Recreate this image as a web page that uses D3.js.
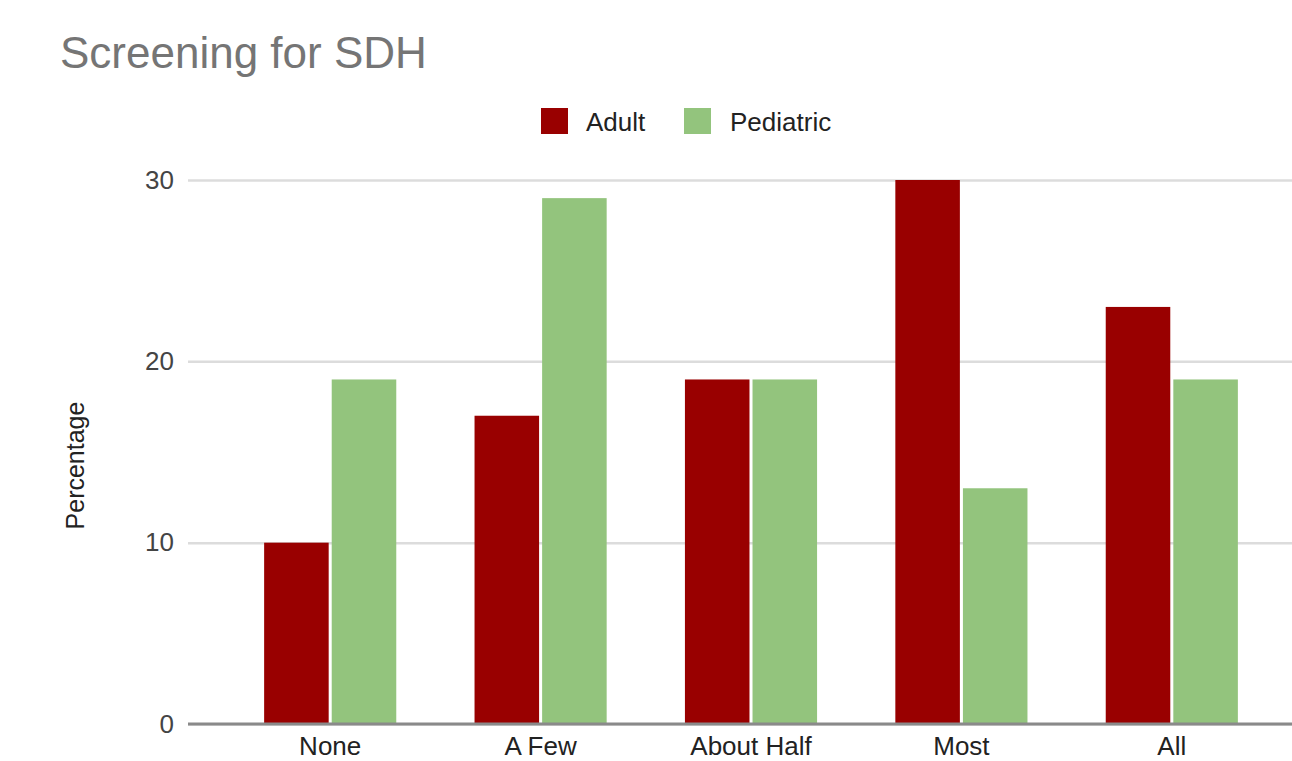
<!DOCTYPE html>
<html>
<head>
<meta charset="utf-8">
<script src="https://cdn.jsdelivr.net/npm/d3@7/dist/d3.min.js"></script>
<style>
  html, body { margin: 0; padding: 0; background: #fff; overflow: hidden; }
  svg { display: block; font-family: Arial, "Liberation Sans", sans-serif; }
</style>
</head>
<body>
<svg id="chart" width="1292" height="761"></svg>
<script>
// Share of respondents screening for social determinants of health
const categories = ["None", "A Few", "About Half", "Most", "All"];
const seriesNames = ["Adult", "Pediatric"];
const adultValues = [10, 17, 19, 30, 23];
const pediatricValues = [19, 29, 19, 13, 19];
const yTicks = [0, 10, 20, 30];
const seriesColors = ["#990000", "#93c47d"];

const svg = d3.select("#chart");
const plot = { left: 188, right: 1310, top: 180, bottom: 724 };

const x = d3.scaleBand()
  .domain(categories)
  .range([225, 1277])
  .paddingInner(0.372)
  .paddingOuter(0.186);

const xSub = d3.scaleBand()
  .domain(seriesNames)
  .range([0, x.bandwidth()])
  .paddingInner(0.045);

const y = d3.scaleLinear()
  .domain([0, 30])
  .range([plot.bottom, plot.top]);

// Title
svg.append("text")
  .attr("x", 60)
  .attr("y", 68)
  .attr("font-size", 44)
  .attr("fill", "#757575")
  .text("Screening for SDH");

// Legend
const legend = svg.append("g");
const legendItems = [
  { name: seriesNames[0], color: seriesColors[0], sx: 541, tx: 586 },
  { name: seriesNames[1], color: seriesColors[1], sx: 684, tx: 730 }
];
legendItems.forEach(d => {
  legend.append("rect")
    .attr("x", d.sx).attr("y", 108)
    .attr("width", 27).attr("height", 26)
    .attr("fill", d.color);
  legend.append("text")
    .attr("x", d.tx).attr("y", 131)
    .attr("font-size", 26)
    .attr("fill", "#222")
    .text(d.name);
});

// Gridlines and y tick labels
const yAxis = d3.axisLeft(y)
  .tickValues(yTicks)
  .tickSize(-(plot.right - plot.left))
  .tickPadding(14)
  .tickFormat(d3.format("d"));

const gy = svg.append("g")
  .attr("transform", `translate(${plot.left},0)`)
  .call(yAxis);
gy.select(".domain").remove();
gy.selectAll(".tick line")
  .attr("stroke", "#dcdcdc")
  .attr("stroke-width", 2.5);
gy.selectAll(".tick text")
  .attr("font-size", 26)
  .attr("fill", "#444")
  .attr("font-family", "Arial, 'Liberation Sans', sans-serif");

// Y axis title
svg.append("text")
  .attr("transform", `translate(84, ${(398 + 533) / 2}) rotate(-90)`)
  .attr("text-anchor", "middle")
  .attr("font-size", 25)
  .attr("fill", "#222")
  .text("Percentage");

// Bars
const rows = categories.map((c, i) => ({
  category: c,
  values: [adultValues[i], pediatricValues[i]]
}));

const groups = svg.append("g").selectAll("g")
  .data(rows)
  .join("g")
  .attr("transform", d => `translate(${x(d.category)},0)`);

groups.selectAll("rect")
  .data(d => d.values.map((v, j) => ({ series: seriesNames[j], value: v, color: seriesColors[j] })))
  .join("rect")
  .attr("x", d => xSub(d.series))
  .attr("y", d => y(d.value))
  .attr("width", xSub.bandwidth())
  .attr("height", d => y(0) - y(d.value))
  .attr("fill", d => d.color);

// Baseline
svg.append("line")
  .attr("x1", plot.left).attr("x2", plot.right)
  .attr("y1", y(0)).attr("y2", y(0))
  .attr("stroke", "#8a8a8a")
  .attr("stroke-width", 3);

// X category labels
const xAxis = d3.axisBottom(x).tickSize(0).tickPadding(0);
const gx = svg.append("g")
  .attr("transform", `translate(0,${plot.bottom})`)
  .call(xAxis);
gx.select(".domain").remove();
gx.selectAll(".tick text")
  .attr("dy", 0)
  .attr("y", 31)
  .attr("font-size", 26)
  .attr("fill", "#222")
  .attr("font-family", "Arial, 'Liberation Sans', sans-serif");
</script>
</body>
</html>
